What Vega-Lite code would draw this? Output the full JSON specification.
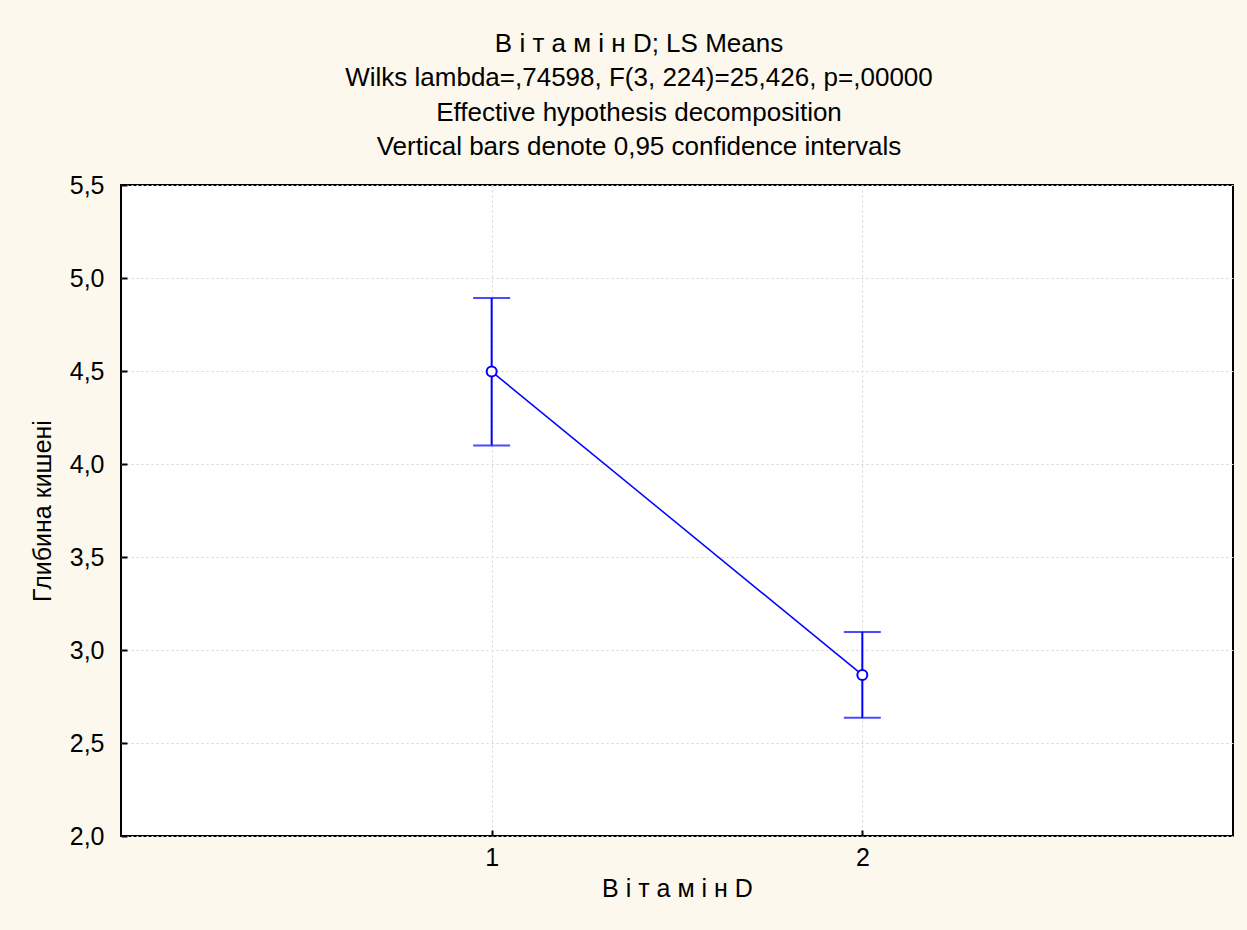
{
  "$schema": "https://vega.github.io/schema/vega-lite/v6.json",
  "width": 1112,
  "height": 651,
  "autosize": {"type": "none"},
  "padding": {"left": 121, "top": 185, "right": 14, "bottom": 94},
  "background": "#fdf8ed",
  "config": {
    "font": "Liberation Sans",
    "view": {"fill": "#ffffff", "stroke": "#000000", "strokeWidth": 2},
    "axis": {
      "domain": false,
      "labelFont": "Liberation Sans",
      "labelFontSize": 25,
      "labelColor": "#000000",
      "titleFont": "Liberation Sans",
      "titleFontSize": 25,
      "titleFontWeight": "normal",
      "titleColor": "#000000",
      "tickColor": "#000000",
      "tickWidth": 2,
      "tickSize": -6,
      "grid": true,
      "gridColor": "#d4d4d4",
      "gridDash": [2, 3],
      "gridWidth": 1
    }
  },
  "title": {
    "text": [
      "В і т а м і н  D; LS Means",
      "Wilks lambda=,74598, F(3, 224)=25,426, p=,00000",
      "Effective hypothesis decomposition",
      "Vertical bars denote 0,95 confidence intervals"
    ],
    "font": "Liberation Sans",
    "fontSize": 26,
    "fontWeight": "normal",
    "color": "#000000",
    "lineHeight": 34.5,
    "anchor": "middle",
    "frame": "group",
    "dx": -38,
    "offset": 13
  },
  "data": {
    "values": [
      {"vitD": 1, "mean": 4.497, "lo": 4.100, "hi": 4.892},
      {"vitD": 2, "mean": 2.866, "lo": 2.636, "hi": 3.097}
    ]
  },
  "encoding": {
    "x": {
      "field": "vitD",
      "type": "quantitative",
      "scale": {"domain": [0, 3], "nice": false, "zero": false},
      "axis": {
        "values": [1, 2],
        "format": "d",
        "title": "В і т а м і н  D",
        "labelPadding": 15,
        "titlePadding": 6
      }
    }
  },
  "layer": [
    {
      "mark": {"type": "rule", "color": "#0000ff", "strokeWidth": 2},
      "encoding": {
        "y": {
          "field": "lo",
          "type": "quantitative",
          "scale": {"domain": [2, 5.5], "nice": false, "zero": false},
          "axis": {
            "values": [2, 2.5, 3, 3.5, 4, 4.5, 5, 5.5],
            "labelExpr": "replace(format(datum.value, '.1f'), '.', ',')",
            "title": "Глибина кишені",
            "labelPadding": 23,
            "titlePadding": 14
          }
        },
        "y2": {"field": "hi"}
      }
    },
    {
      "mark": {"type": "tick", "orient": "horizontal", "color": "#0000ff", "size": 37, "thickness": 2},
      "encoding": {"y": {"field": "lo", "type": "quantitative"}}
    },
    {
      "mark": {"type": "tick", "orient": "horizontal", "color": "#0000ff", "size": 37, "thickness": 2},
      "encoding": {"y": {"field": "hi", "type": "quantitative"}}
    },
    {
      "mark": {"type": "line", "color": "#0000ff", "strokeWidth": 1.5},
      "encoding": {"y": {"field": "mean", "type": "quantitative"}}
    },
    {
      "mark": {"type": "point", "shape": "circle", "filled": true, "fill": "#ffffff", "stroke": "#0000ff", "strokeWidth": 2, "size": 100, "opacity": 1},
      "encoding": {"y": {"field": "mean", "type": "quantitative"}}
    }
  ]
}
